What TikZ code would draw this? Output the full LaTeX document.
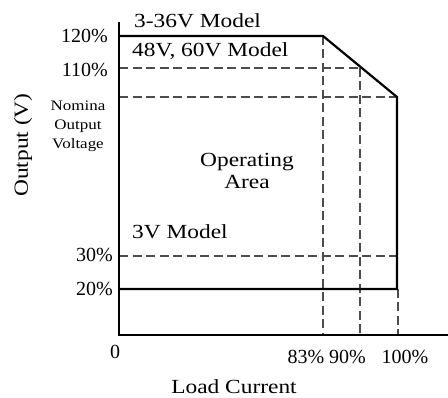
\documentclass[tikz,border=0pt]{standalone}
\usepackage{fontspec}
\setmainfont{Liberation Serif}
\newfontfamily\widefont{Liberation Serif}[FakeStretch=1.17]
\begin{document}
\begin{tikzpicture}[x=1pt,y=-1pt,
  solidline/.style={line width=2.2pt,black},
  dashline/.style={line width=1.3pt,color=black!70,dash pattern=on 9pt off 4.5pt},
  pct/.style={font=\fontsize{20}{22}\selectfont,inner sep=0pt},
  word/.style={font=\widefont\fontsize{20}{22}\selectfont,inner sep=0pt},
  small/.style={font=\widefont\fontsize{14.5}{19}\selectfont,inner sep=0pt,align=center}]
\useasboundingbox (0,0) rectangle (448,398);
% coordinates
\coordinate (top) at (119,22);
\coordinate (orig) at (119,335);
\coordinate (xend) at (448,335);
\coordinate (y120) at (119,36);
\coordinate (k83) at (323,36);
\coordinate (y110) at (119,68);
\coordinate (k90) at (360,68);
\coordinate (ynom) at (119,97);
\coordinate (k100) at (397,97);
\coordinate (y30) at (119,256);
\coordinate (r30) at (397,256);
\coordinate (y20) at (119,289);
\coordinate (r20) at (397,289);
\coordinate (b83) at (323,335);
\coordinate (b90) at (360,335);
\coordinate (t100) at (398,289);
\coordinate (b100) at (398,335);
% dashed lines
\draw[dashline] (y110) -- (k90);
\draw[dashline] (ynom) -- (k100);
\draw[dashline] (y30) -- (r30);
\draw[dashline] (k83) -- (b83);
\draw[dashline] (k90) -- (b90);
\draw[dashline] (t100) -- (b100);
% solid lines
\draw[solidline,line join=miter] (y120) -- (k83) -- (k100) -- (r20) -- (y20);
\draw[solidline] (top) -- (orig) -- (xend);
% labels
\node[pct,anchor=east] (l120) at (108,36) {120\%};
\node[pct,anchor=east] (l110) at (108,69.5) {110\%};
\node[small] (lnom) at (78,126) {Nomina\\Output\\Voltage};
\node[pct,anchor=east] (l30) at (113,255) {30\%};
\node[pct,anchor=east] (l20) at (113,289) {20\%};
\node[pct] (l0) at (115,352) {0};
\node[pct] (l83) at (306,357) {83\%};
\node[pct] (l90) at (347.5,357) {90\%};
\node[pct] (l100) at (405,357) {100\%};
\node[word] (lload) at (234,387) {Load Current};
\node[word,rotate=90] (lout) at (23,145) {Output (V)};
\node[word,anchor=west] (m336) at (134,21) {3-36V Model};
\node[word,anchor=west] (m48) at (132,51) {48V, 60V Model};
\node[word,align=center,font=\widefont\fontsize{20}{22}\selectfont] (op) at (247,171) {Operating\\Area};
\node[word,anchor=west] (m3) at (132,232) {3V Model};
\end{tikzpicture}
\end{document}
